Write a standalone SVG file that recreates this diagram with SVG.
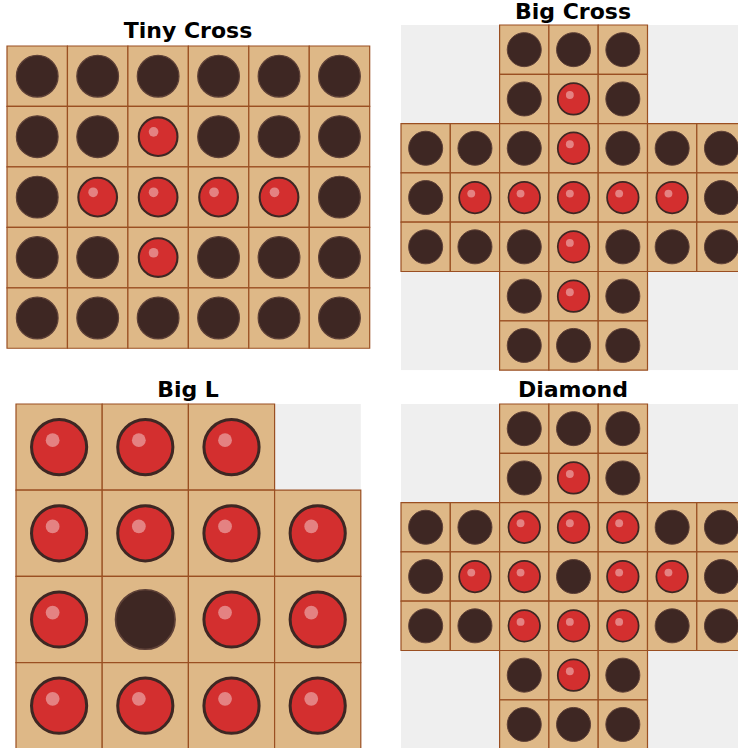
<svg xmlns="http://www.w3.org/2000/svg" width="738" height="748" viewBox="0 0 738 748">
<style>
.title{font-family:"DejaVu Sans",sans-serif;font-weight:bold;font-size:22px;fill:#000;text-anchor:middle}
.cell{fill:#deb887;stroke:#9a4f22;stroke-width:1.2;vector-effect:non-scaling-stroke}
.bg{fill:#efefef}
.hole{fill:#3e2723;stroke:#5d4037;stroke-width:0.02}
.peg{fill:#d32f2f;stroke:#3e2723;stroke-width:0.035}
.hl{fill:#ffffff;fill-opacity:0.4}
</style>
<defs>
<g id="H"><rect class="cell" width="1" height="1"/><circle class="hole" cx="0.5" cy="0.5" r="0.345"/></g>
<g id="P"><rect class="cell" width="1" height="1"/><circle class="peg" cx="0.5" cy="0.5" r="0.32"/><circle class="hl" cx="0.425" cy="0.42" r="0.08"/></g>
</defs>
<rect width="738" height="748" fill="#ffffff"/>

<g id="tiny-cross">
<text class="title" x="188" y="38">Tiny Cross</text>
<g transform="translate(7,46) scale(60.45)">
<use href="#H" x="0" y="0"/><use href="#H" x="1" y="0"/><use href="#H" x="2" y="0"/><use href="#H" x="3" y="0"/><use href="#H" x="4" y="0"/><use href="#H" x="5" y="0"/>
<use href="#H" x="0" y="1"/><use href="#H" x="1" y="1"/><use href="#P" x="2" y="1"/><use href="#H" x="3" y="1"/><use href="#H" x="4" y="1"/><use href="#H" x="5" y="1"/>
<use href="#H" x="0" y="2"/><use href="#P" x="1" y="2"/><use href="#P" x="2" y="2"/><use href="#P" x="3" y="2"/><use href="#P" x="4" y="2"/><use href="#H" x="5" y="2"/>
<use href="#H" x="0" y="3"/><use href="#H" x="1" y="3"/><use href="#P" x="2" y="3"/><use href="#H" x="3" y="3"/><use href="#H" x="4" y="3"/><use href="#H" x="5" y="3"/>
<use href="#H" x="0" y="4"/><use href="#H" x="1" y="4"/><use href="#H" x="2" y="4"/><use href="#H" x="3" y="4"/><use href="#H" x="4" y="4"/><use href="#H" x="5" y="4"/>
</g>
</g>

<g id="big-cross">
<text class="title" x="573" y="19">Big Cross</text>
<g transform="translate(401,25) scale(49.3)">
<rect class="bg" width="7" height="7"/>
<use href="#H" x="2" y="0"/><use href="#H" x="3" y="0"/><use href="#H" x="4" y="0"/>
<use href="#H" x="2" y="1"/><use href="#P" x="3" y="1"/><use href="#H" x="4" y="1"/>
<use href="#H" x="0" y="2"/><use href="#H" x="1" y="2"/><use href="#H" x="2" y="2"/><use href="#P" x="3" y="2"/><use href="#H" x="4" y="2"/><use href="#H" x="5" y="2"/><use href="#H" x="6" y="2"/>
<use href="#H" x="0" y="3"/><use href="#P" x="1" y="3"/><use href="#P" x="2" y="3"/><use href="#P" x="3" y="3"/><use href="#P" x="4" y="3"/><use href="#P" x="5" y="3"/><use href="#H" x="6" y="3"/>
<use href="#H" x="0" y="4"/><use href="#H" x="1" y="4"/><use href="#H" x="2" y="4"/><use href="#P" x="3" y="4"/><use href="#H" x="4" y="4"/><use href="#H" x="5" y="4"/><use href="#H" x="6" y="4"/>
<use href="#H" x="2" y="5"/><use href="#P" x="3" y="5"/><use href="#H" x="4" y="5"/>
<use href="#H" x="2" y="6"/><use href="#H" x="3" y="6"/><use href="#H" x="4" y="6"/>
</g>
</g>

<g id="big-l">
<text class="title" x="188" y="397">Big L</text>
<g transform="translate(16,404) scale(86.2)">
<rect class="bg" width="4" height="4"/>
<use href="#P" x="0" y="0"/><use href="#P" x="1" y="0"/><use href="#P" x="2" y="0"/>
<use href="#P" x="0" y="1"/><use href="#P" x="1" y="1"/><use href="#P" x="2" y="1"/><use href="#P" x="3" y="1"/>
<use href="#P" x="0" y="2"/><use href="#H" x="1" y="2"/><use href="#P" x="2" y="2"/><use href="#P" x="3" y="2"/>
<use href="#P" x="0" y="3"/><use href="#P" x="1" y="3"/><use href="#P" x="2" y="3"/><use href="#P" x="3" y="3"/>
</g>
</g>

<g id="diamond">
<text class="title" x="573" y="397">Diamond</text>
<g transform="translate(401,404) scale(49.3)">
<rect class="bg" width="7" height="7"/>
<use href="#H" x="2" y="0"/><use href="#H" x="3" y="0"/><use href="#H" x="4" y="0"/>
<use href="#H" x="2" y="1"/><use href="#P" x="3" y="1"/><use href="#H" x="4" y="1"/>
<use href="#H" x="0" y="2"/><use href="#H" x="1" y="2"/><use href="#P" x="2" y="2"/><use href="#P" x="3" y="2"/><use href="#P" x="4" y="2"/><use href="#H" x="5" y="2"/><use href="#H" x="6" y="2"/>
<use href="#H" x="0" y="3"/><use href="#P" x="1" y="3"/><use href="#P" x="2" y="3"/><use href="#H" x="3" y="3"/><use href="#P" x="4" y="3"/><use href="#P" x="5" y="3"/><use href="#H" x="6" y="3"/>
<use href="#H" x="0" y="4"/><use href="#H" x="1" y="4"/><use href="#P" x="2" y="4"/><use href="#P" x="3" y="4"/><use href="#P" x="4" y="4"/><use href="#H" x="5" y="4"/><use href="#H" x="6" y="4"/>
<use href="#H" x="2" y="5"/><use href="#P" x="3" y="5"/><use href="#H" x="4" y="5"/>
<use href="#H" x="2" y="6"/><use href="#H" x="3" y="6"/><use href="#H" x="4" y="6"/>
</g>
</g>
</svg>
